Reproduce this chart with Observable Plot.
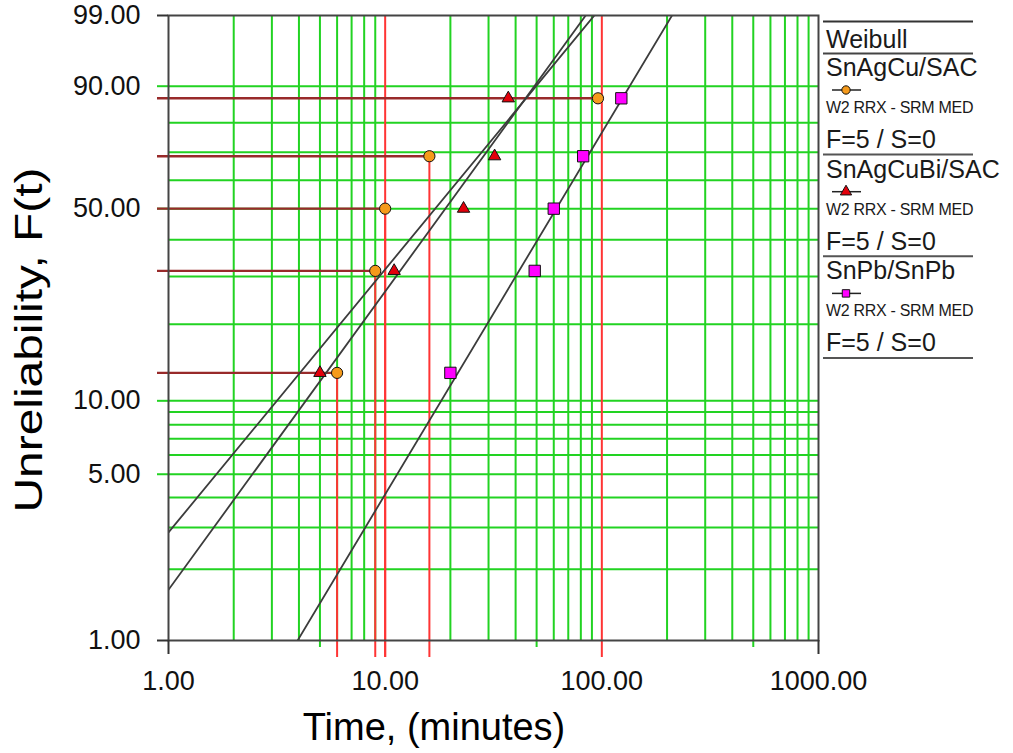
<!DOCTYPE html>
<html>
<head>
<meta charset="utf-8">
<script src="https://cdn.jsdelivr.net/npm/d3@7"></script>
<script src="https://cdn.jsdelivr.net/npm/@observablehq/plot@0.6"></script>
<style>
  body { margin: 0; background: #fff; }
  #chart { width: 1013px; height: 753px; }
</style>
</head>
<body>
<div id="chart"></div>
<script>
// ---------- data ----------
const seriesNames   = ["SnAgCu/SAC", "SnAgCuBi/SAC", "SnPb/SnPb"];
const seriesColors  = ["#f59a1b", "#e3000b", "#ff00ff"];
const seriesSymbols = ["circle", "triangle", "square"];
const medianRanks   = [12.94, 31.38, 50.00, 68.62, 87.06];   // unreliability, %
const timesSnAgCu   = [6.0, 9.0, 10.0, 16.0, 96.0];          // minutes
const timesSnAgCuBi = [5.0, 11.0, 23.0, 32.0, 37.0];
const timesSnPb     = [20.0, 49.0, 60.0, 82.0, 123.0];
const seriesTimes   = [timesSnAgCu, timesSnAgCuBi, timesSnPb];
const fitBeta       = [1.12, 1.27, 1.54];                     // Weibull 2P (RRX) shape
const fitEta        = [23.6, 25.3, 78.2];                     // Weibull 2P (RRX) scale
const legendTitle   = "Weibull";
const legendMethod  = "W2 RRX - SRM MED";
const legendCounts  = ["F=5 / S=0", "F=5 / S=0", "F=5 / S=0"];
const dropLineShown = [true, true, true, true, false];        // SnAgCu drop lines to time axis
const xDomain       = [1, 1000];
const yDomainPct    = [1, 99];
const xTickLabels   = [1, 10, 100, 1000];
const yTickLabels   = [1, 5, 10, 50, 90, 99];
const xGrid         = [2,3,4,5,6,7,8,9,20,30,40,50,60,70,80,90,200,300,400,500,600,700,800,900];
const xMinorTicks   = [5, 50, 500];
const yGrid         = [2,3,4,5,6,7,8,9,10,20,30,40,50,60,70,80,90];
const yLabeledGrid  = [5, 10, 50, 90];
const redTimeLines  = [10, 100];
const xTitle        = "Time, (minutes)";
const yTitle        = "Unreliability, F(t)";

// ---------- helpers ----------
const weib = p => Math.log(-Math.log(1 - p / 100));   // Weibull probability-paper ordinate
const yDom = [weib(yDomainPct[0]), weib(yDomainPct[1])];
const yBottom = yDom[0];

const points = [];
seriesNames.forEach((s, i) => seriesTimes[i].forEach((t, j) =>
  points.push({series: s, t, F: medianRanks[j], idx: j})));
const sacPoints = points.filter(d => d.series === seriesNames[0]);

const fitData = [];
seriesNames.forEach((s, i) => xDomain.forEach(t =>
  fitData.push({series: s, t, w: fitBeta[i] * (Math.log(t) - Math.log(fitEta[i]))})));

const green = "#22d322";
const red = "#ff3434";
const darkRed = "#982a2a";
const font = "'Liberation Sans', Arial, Helvetica, sans-serif";
const dotR = {circle: 5.6, triangle: 4.6, square: 6.4};

const plot = Plot.plot({
  width: 1013,
  height: 753,
  marginLeft: 168,
  marginRight: 195,
  marginTop: 15,
  marginBottom: 113,
  x: {type: "log", domain: xDomain, axis: null},
  y: {type: "linear", domain: yDom, axis: null},
  color: {domain: seriesNames, range: seriesColors},
  symbol: {domain: seriesNames, range: seriesSymbols},
  style: {fontFamily: font, background: "#fff", overflow: "visible", color: "#111"},
  marks: [
    // green grid
    Plot.ruleX(xGrid, {x: d => d, stroke: green, strokeWidth: 2}),
    Plot.ruleX(xMinorTicks, {x: d => d, y1: yBottom, y2: yBottom, insetBottom: -7, stroke: green, strokeWidth: 2}),
    Plot.ruleY(yGrid, {y: d => weib(d), stroke: green, strokeWidth: 2}),
    Plot.ruleY(yLabeledGrid, {y: d => weib(d), x1: xDomain[0], x2: xDomain[0], insetLeft: -11, stroke: green, strokeWidth: 2}),
    // red time lines
    Plot.ruleX(redTimeLines, {x: d => d, insetBottom: -17, stroke: red, strokeWidth: 2}),
    Plot.ruleX(sacPoints.filter(d => dropLineShown[d.idx]), {x: "t", y1: d => weib(d.F), y2: yBottom, insetBottom: -17, stroke: red, strokeWidth: 2}),
    // dark red horizontal lines
    Plot.ruleY(sacPoints, {y: d => weib(d.F), x1: xDomain[0], x2: "t", insetLeft: -11, stroke: darkRed, strokeWidth: 2.4}),
    // fit lines
    Plot.line(fitData, {x: "t", y: "w", z: "series", stroke: "#3c3c3c", strokeWidth: 1.8, clip: true}),
    // frame
    Plot.frame({stroke: "#444", strokeWidth: 2}),
    // major tick marks
    Plot.ruleX([xDomain[0], xDomain[1]], {x: d => d, y1: yBottom, y2: yBottom, insetBottom: -14, stroke: "#333", strokeWidth: 2}),
    Plot.ruleY([yDomainPct[0], yDomainPct[1]], {y: d => weib(d), x1: xDomain[0], x2: xDomain[0], insetLeft: -11, stroke: "#333", strokeWidth: 2}),
    // data points
    ...seriesNames.map((s, i) => Plot.dot(points.filter(d => d.series === s), {
      x: "t", y: d => weib(d.F), fill: "series", symbol: "series",
      stroke: "#111", strokeWidth: 1, r: dotR[seriesSymbols[i]]
    })),
    // tick labels
    Plot.text(xTickLabels, {x: d => d, frameAnchor: "bottom", dy: 49, text: d => d.toFixed(2), fontSize: 27, fill: "#111"}),
    Plot.text(yTickLabels, {y: d => weib(d), frameAnchor: "left", dx: -28, textAnchor: "end", text: d => d.toFixed(2), fontSize: 27, fill: "#111"})
  ]
});

document.getElementById("chart").appendChild(plot);
const svg = d3.select(plot);

// ---------- axis titles ----------
svg.append("text")
  .attr("x", 434).attr("y", 740)
  .attr("text-anchor", "middle").attr("font-family", font).attr("font-size", 38).attr("fill", "#000")
  .text(xTitle);
svg.append("text")
  .attr("transform", "translate(42,340) rotate(-90)")
  .attr("text-anchor", "middle").attr("font-family", font).attr("font-size", 38).attr("fill", "#000")
  .attr("textLength", 345).attr("lengthAdjust", "spacingAndGlyphs")
  .text(yTitle);

// ---------- legend (right of the frame) ----------
const lg = svg.append("g").attr("font-family", font).attr("fill", "#1a1a1a").attr("text-anchor", "start");
const lx0 = 823, lx1 = 973;
lg.append("line").attr("x1", lx0).attr("x2", lx1).attr("y1", 21.5).attr("y2", 21.5).attr("stroke", "#333").attr("stroke-width", 2);
lg.append("text").attr("x", 826).attr("y", 48).attr("font-size", 25).text(legendTitle);
lg.append("line").attr("x1", lx0).attr("x2", lx1).attr("y1", 53.5).attr("y2", 53.5).attr("stroke", "#444").attr("stroke-width", 2);
const symbolTypes = {circle: d3.symbolCircle, triangle: d3.symbolTriangle, square: d3.symbolSquare};
seriesNames.forEach((s, i) => {
  const b = 76 + i * 101.7;
  lg.append("text").attr("x", 826).attr("y", b).attr("font-size", 25).text(s);
  lg.append("line").attr("x1", 832).attr("x2", 861).attr("y1", b + 14).attr("y2", b + 14).attr("stroke", "#222").attr("stroke-width", 1.5);
  lg.append("path").attr("transform", `translate(846,${b + 14})`)
    .attr("d", d3.symbol(symbolTypes[seriesSymbols[i]], 55)())
    .attr("fill", seriesColors[i]).attr("stroke", "#111").attr("stroke-width", 1);
  lg.append("text").attr("x", 826).attr("y", b + 37).attr("font-size", 16).attr("letter-spacing", "-0.3").text(legendMethod);
  lg.append("text").attr("x", 826).attr("y", b + 72).attr("font-size", 25).text(legendCounts[i]);
  lg.append("line").attr("x1", lx0).attr("x2", lx1).attr("y1", b + 78.5).attr("y2", b + 78.5).attr("stroke", "#555").attr("stroke-width", 2);
});
</script>
</body>
</html>
